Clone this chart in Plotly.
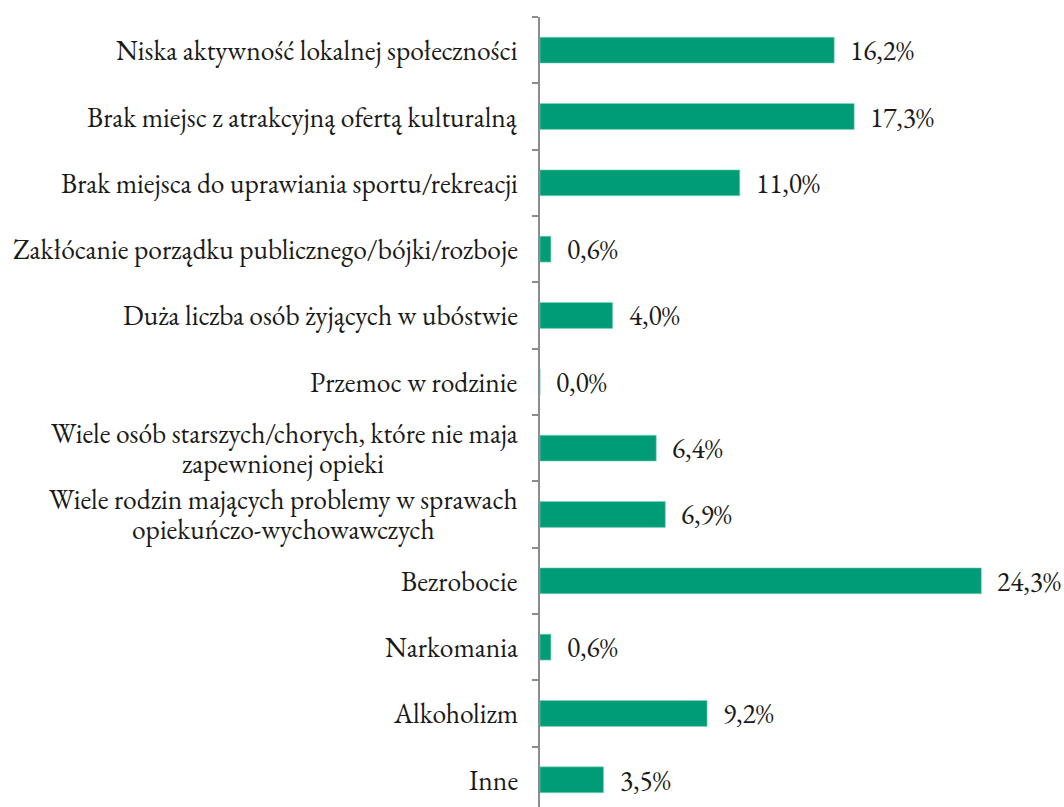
import plotly.graph_objects as go

# Problem categories (top to bottom) and share of responses in percent
categories = [
    "Niska aktywność lokalnej społeczności",
    "Brak miejsc z atrakcyjną ofertą kulturalną",
    "Brak miejsca do uprawiania sportu/rekreacji",
    "Zakłócanie porządku publicznego/bójki/rozboje",
    "Duża liczba osób żyjących w ubóstwie",
    "Przemoc w rodzinie",
    "Wiele osób starszych/chorych, które nie maja<br>zapewnionej opieki",
    "Wiele rodzin mających problemy w sprawach<br>opiekuńczo-wychowawczych",
    "Bezrobocie",
    "Narkomania",
    "Alkoholizm",
    "Inne",
]
values = [16.2, 17.3, 11.0, 0.6, 4.0, 0.0, 6.4, 6.9, 24.3, 0.6, 9.2, 3.5]

FONT = "EB Garamond, Garamond, Liberation Serif, serif"
FONT_SIZE = 27.5
TEXT_COLOR = "#1a1a1a"
BAR_COLOR = "#009B77"
AXIS_COLOR = "#8c8c8c"
LINE_GAP = 15          # half the distance between wrapped label lines (px)
LABEL_PAD = -20        # right edge of labels relative to the axis (px)
WRAP_CENTER = -257     # centre of wrapped labels relative to the axis (px)

ids = list(range(len(categories)))

fig = go.Figure(
    go.Bar(
        x=values,
        y=ids,
        orientation="h",
        marker=dict(color=BAR_COLOR, line=dict(color="#7fd6bd", width=0.6)),
        width=0.39,
        hoverinfo="skip",
    )
)

label_font = dict(family=FONT, size=FONT_SIZE, color=TEXT_COLOR)
annotations = []
# Category labels to the left of the axis; wrapped ones are centred line by line
for i, name in zip(ids, categories):
    lines = name.split("<br>")
    if len(lines) == 1:
        annotations.append(dict(
            x=0, xref="paper", y=i, yref="y", text=name, showarrow=False,
            xanchor="right", yanchor="middle", xshift=LABEL_PAD, font=label_font,
        ))
    else:
        annotations.append(dict(
            x=0, xref="paper", y=i, yref="y", text=lines[0], showarrow=False,
            xanchor="right", yanchor="middle", xshift=LABEL_PAD,
            yshift=LINE_GAP, font=label_font,
        ))
        annotations.append(dict(
            x=0, xref="paper", y=i, yref="y", text=lines[1], showarrow=False,
            xanchor="center", yanchor="middle", xshift=WRAP_CENTER,
            yshift=-LINE_GAP, font=label_font,
        ))
# Value labels beside each bar
for i, v in zip(ids, values):
    annotations.append(dict(
        x=v, xref="x", y=i, yref="y",
        text=f"{v:.1f}".replace(".", ",") + "%", showarrow=False,
        xanchor="left", yanchor="middle", xshift=14, font=label_font,
    ))

fig.update_layout(
    width=1064, height=807,
    margin=dict(l=540, r=16, t=17, b=0),
    paper_bgcolor="white", plot_bgcolor="white",
    showlegend=False,
    annotations=annotations,
    xaxis=dict(range=[0, 27.97], visible=False, fixedrange=True),
    yaxis=dict(
        type="linear",
        range=[11.41, -0.5],
        showticklabels=False,
        tickmode="array",
        tickvals=[k - 0.5 for k in range(len(categories) + 1)],
        ticks="outside", ticklen=6, tickwidth=1.5, tickcolor=AXIS_COLOR,
        showline=True, linecolor=AXIS_COLOR, linewidth=2,
        showgrid=False, zeroline=False, fixedrange=True,
    ),
)

fig.write_html("out.html")
